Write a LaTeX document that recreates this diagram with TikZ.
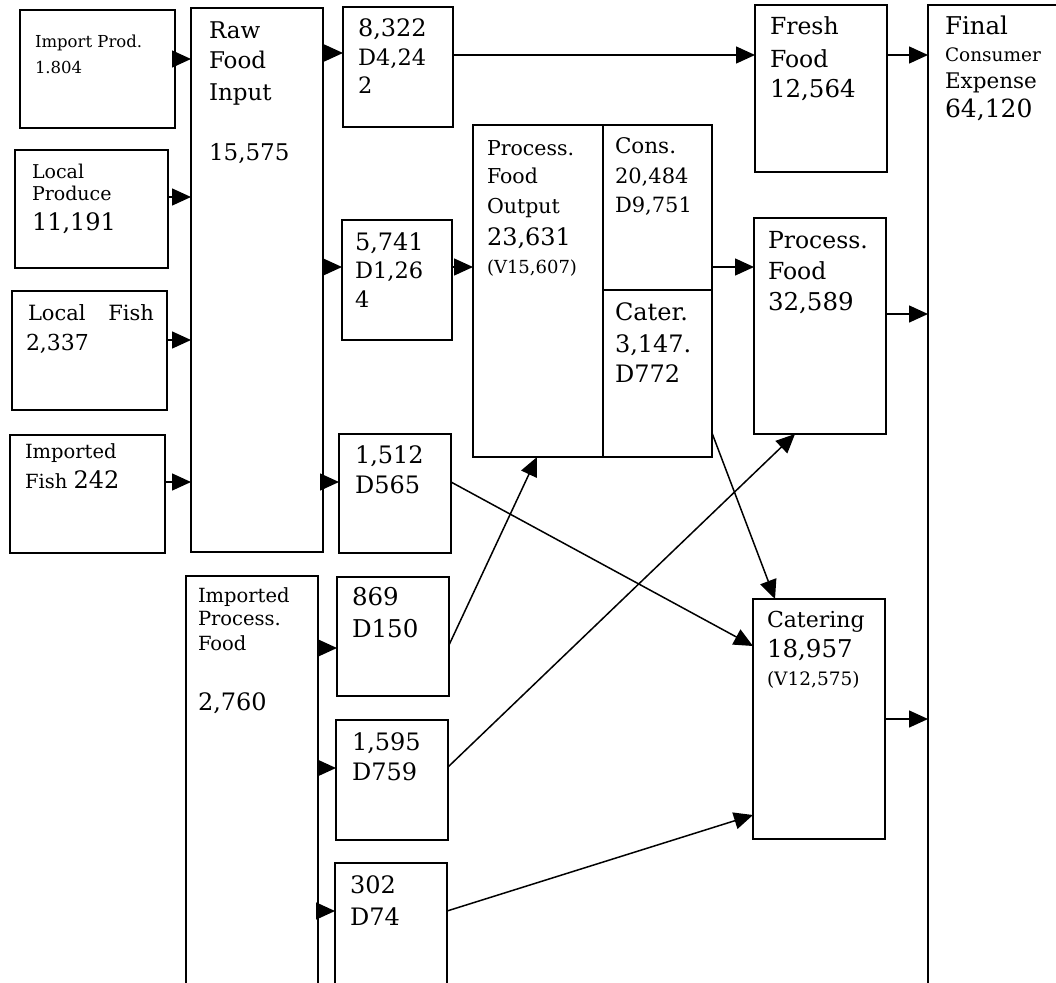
\documentclass[tikz,border=0pt]{standalone}
\usepackage{fontspec}
\setmainfont{DejaVu Serif}
\usetikzlibrary{arrows.meta}
\newcommand\myfs[1]{\fontsize{#1}{#1}\selectfont}
\tikzset{
  box/.style={draw, line width=1.5pt, anchor=north west, inner sep=0pt, outer sep=0pt},
  arr/.style={line width=1.5pt, -{Triangle[length=19pt,width=17pt]}},
  t/.style={anchor=base west, inner sep=0pt, outer sep=0pt},
}
\begin{document}
\begin{tikzpicture}[x=1pt,y=-1pt]
\useasboundingbox (0,0) rectangle (1056,982);
\clip (0,0) rectangle (1056,982);
\fill[white] (0,0) rectangle (1056,982);
% boxes
\node[box, minimum width=155pt, minimum height=118pt] (ip) at (20,10) {};
\node[box, minimum width=132pt, minimum height=544pt] (raw) at (191,8) {};
\node[box, minimum width=153pt, minimum height=118pt] (lp) at (15,150) {};
\node[box, minimum width=155pt, minimum height=119pt] (lf) at (12,291) {};
\node[box, minimum width=155pt, minimum height=118pt] (imf) at (10,435) {};
\node[box, minimum width=132pt, minimum height=450pt] (ipf) at (186,576) {};
\node[box, minimum width=110pt, minimum height=120pt] (r8322) at (343,7) {};
\node[box, minimum width=110pt, minimum height=120pt] (r5741) at (342,220) {};
\node[box, minimum width=112pt, minimum height=119pt] (r1512) at (339,434) {};
\node[box, minimum width=112pt, minimum height=119pt] (r869) at (337,577) {};
\node[box, minimum width=112pt, minimum height=120pt] (r1595) at (336,720) {};
\node[box, minimum width=112pt, minimum height=150pt] (r302) at (335,863) {};
\node[box, minimum width=130pt, minimum height=332pt] (pfo) at (473,125) {};
\node[box, minimum width=109pt, minimum height=165pt] (cons) at (603,125) {};
\node[box, minimum width=109pt, minimum height=167pt] (cater) at (603,290) {};
\node[box, minimum width=132pt, minimum height=167pt] (ff) at (755,5) {};
\node[box, minimum width=132pt, minimum height=216pt] (pf) at (754,218) {};
\node[box, minimum width=132pt, minimum height=240pt] (cat) at (753,599) {};
\node[box, minimum width=200pt, minimum height=1000pt] (fin) at (928,5) {};
% texts
\node[t, font=\myfs{16.5}] (ip1) at (35,48) {Import Prod.};
\node[t, font=\myfs{16.5}] (ip2) at (35,73) {1.804};
\node[t, font=\myfs{23}] (raw1) at (209,38) {Raw};
\node[t, font=\myfs{23}] (raw2) at (209,68) {Food};
\node[t, font=\myfs{23}] (raw3) at (209,100) {Input};
\node[t, font=\myfs{23}] (raw4) at (209,160) {15,575};
\node[t, font=\myfs{19}] (lp1) at (32,178) {Local};
\node[t, font=\myfs{19}] (lp2) at (32,200) {Produce};
\node[t, font=\myfs{24}] (lp3) at (32,230) {11,191};
\node[t, font=\myfs{21}, text width=126pt] (lf1) at (28,320) {Local\hfill Fish};
\node[t, font=\myfs{22}] (lf2) at (26,350) {2,337};
\node[t, font=\myfs{19.5}] (imf1) at (25,458) {Imported};
\node[t, font=\myfs{19.5}] (imf2) at (25,488) {Fish {\myfs{24}242}};
\node[t, font=\myfs{24}] (a1) at (358,37) {8,322};
\node[t, font=\myfs{22.5}] (a2) at (358,65) {D4,24};
\node[t, font=\myfs{22.5}] (a3) at (358,93) {2};
\node[t, font=\myfs{24}] (b1) at (355,250) {5,741};
\node[t, font=\myfs{22.5}] (b2) at (355,278) {D1,26};
\node[t, font=\myfs{22.5}] (b3) at (355,307) {4};
\node[t, font=\myfs{24}] (c1) at (355,463) {1,512};
\node[t, font=\myfs{24}] (c2) at (355,493) {D565};
\node[t, font=\myfs{20.5}] (p1) at (487,155) {Process.};
\node[t, font=\myfs{20.5}] (p2) at (487,183) {Food};
\node[t, font=\myfs{20.5}] (p3) at (487,213) {Output};
\node[t, font=\myfs{24}] (p4) at (487,245) {23,631};
\node[t, font=\myfs{18}] (p5) at (487,273) {(V15,607)};
\node[t, font=\myfs{21.5}] (k1) at (615,153) {Cons.};
\node[t, font=\myfs{21}] (k2) at (615,183) {20,484};
\node[t, font=\myfs{21}] (k3) at (615,212) {D9,751};
\node[t, font=\myfs{24}] (q1) at (615,320) {Cater.};
\node[t, font=\myfs{24}] (q2) at (615,352) {3,147.};
\node[t, font=\myfs{24}] (q3) at (615,382) {D772};
\node[t, font=\myfs{23.5}] (f1) at (770,35) {Fresh};
\node[t, font=\myfs{23.5}] (f2) at (770,67) {Food};
\node[t, font=\myfs{24.5}] (f3) at (770,97) {12,564};
\node[t, font=\myfs{24.5}] (g1) at (945,35) {Final};
\node[t, font=\myfs{18.5}] (g2) at (945,62) {Consumer};
\node[t, font=\myfs{21.5}] (g3) at (945,88) {Expense};
\node[t, font=\myfs{25}] (g4) at (945,117) {64,120};
\node[t, font=\myfs{23.5}] (h1) at (768,248) {Process.};
\node[t, font=\myfs{23.5}] (h2) at (768,279) {Food};
\node[t, font=\myfs{24.5}] (h3) at (768,310) {32,589};
\node[t, font=\myfs{22}] (m1) at (767,627) {Catering};
\node[t, font=\myfs{24.5}] (m2) at (767,657) {18,957};
\node[t, font=\myfs{18.5}] (m3) at (767,685) {(V12,575)};
\node[t, font=\myfs{19.5}] (n1) at (198,602) {Imported};
\node[t, font=\myfs{19.5}] (n2) at (198,625) {Process.};
\node[t, font=\myfs{19.5}] (n3) at (198,650) {Food};
\node[t, font=\myfs{24}] (n4) at (198,710) {2,760};
\node[t, font=\myfs{24.5}] (s1) at (352,605) {869};
\node[t, font=\myfs{24.5}] (s2) at (352,637) {D150};
\node[t, font=\myfs{24}] (u1) at (352,750) {1,595};
\node[t, font=\myfs{24}] (u2) at (352,780) {D759};
\node[t, font=\myfs{24}] (w1) at (350,893) {302};
\node[t, font=\myfs{24}] (w2) at (350,925) {D74};
% connectors
\draw[arr] (ip.east |- 0,59) -- (raw.west |- 0,59);
\draw[arr] (lp.east |- 0,197) -- (raw.west |- 0,197);
\draw[arr] (lf.east |- 0,340) -- (raw.west |- 0,340);
\draw[arr] (imf.east |- 0,482) -- (raw.west |- 0,482);
\draw[arr] (raw.east |- 0,53) -- (r8322.west |- 0,53);
\draw[arr] (raw.east |- 0,267) -- (r5741.west |- 0,267);
\draw[arr] (raw.east |- 0,482) -- (r1512.west |- 0,482);
\draw[arr] (ipf.east |- 0,648) -- (r869.west |- 0,648);
\draw[arr] (ipf.east |- 0,768) -- (r1595.west |- 0,768);
\draw[arr] (ipf.east |- 0,911) -- (r302.west |- 0,911);
\draw[arr] (r8322.east |- 0,55) -- (ff.west |- 0,55);
\draw[arr] (r5741.east |- 0,267) -- (pfo.west |- 0,267);
\draw[arr] (cons.east |- 0,267) -- (pf.west |- 0,267);
\draw[arr] (ff.east |- 0,55) -- (fin.west |- 0,55);
\draw[arr] (pf.east |- 0,314) -- (fin.west |- 0,314);
\draw[arr] (cat.east |- 0,719) -- (fin.west |- 0,719);
\draw[arr] (r1512.east |- 0,482) -- (cat.west |- 0,646);
\draw[arr] (r869.east |- 0,645) -- (pfo.south -| 537,0);
\draw[arr] (r1595.east |- 0,767) -- (pf.south -| 795,0);
\draw[arr] (r302.east |- 0,911) -- (cat.west |- 0,815);
\draw[arr] (cater.east |- 0,433) -- (cat.north -| 775,0);
\end{tikzpicture}
\end{document}
